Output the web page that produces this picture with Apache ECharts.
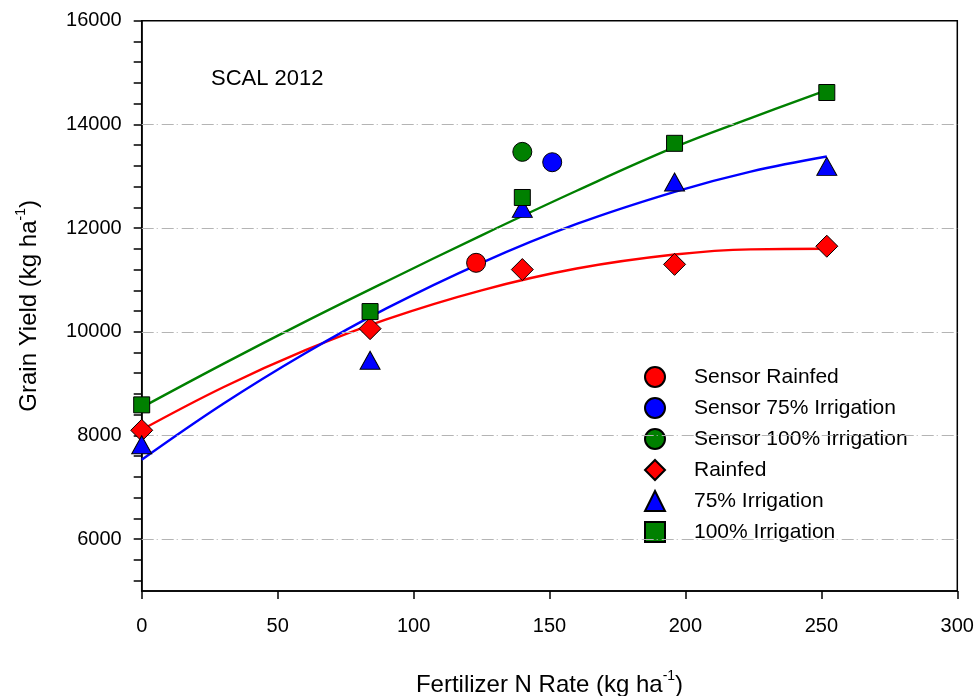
<!DOCTYPE html>
<html><head><meta charset="utf-8">
<script src="https://cdn.jsdelivr.net/npm/echarts@6/dist/echarts.min.js"></script>
<style>html,body{margin:0;padding:0;background:#fff}#c{width:979px;height:696px}</style>
</head><body><div id="c"></div>
<script>
// ---- data ----
const nRates = [0, 84, 140, 196, 252];
const rainfed = [8100, 10060, 11200, 11300, 11650];
const irr75 = [7820, 9450, 12380, 12890, 13190];
const irr100 = [8590, 10390, 12590, 13635, 14615];
const sensorRainfed = [[123, 11330]];
const sensor75 = [[151, 13270]];
const sensor100 = [[140, 13470]];
const fitX = [0, 30, 60, 90, 125, 160, 196, 224, 252];
const fitRainfed = [8110, 8930, 9640, 10240, 10800, 11220, 11490, 11590, 11600];
const fit75 = [7530, 8610, 9580, 10450, 11330, 12080, 12700, 13090, 13380];
const fit100 = [8540, 9380, 10190, 10970, 11860, 12720, 13560, 14120, 14660];
const xTicks = [0, 50, 100, 150, 200, 250, 300];
const yLabels = [6000, 8000, 10000, 12000, 14000, 16000];
const yTicks = [5200, 5600, 6000, 6400, 6800, 7200, 7600, 8000, 8400, 8800, 9200, 9600, 10000,
  10400, 10800, 11200, 11600, 12000, 12400, 12800, 13200, 13600, 14000, 14400, 14800, 15200, 15600, 16000];
const gridLines = [6000, 8000, 10000, 12000, 14000];
const legendNames = ['Sensor Rainfed', 'Sensor 75% Irrigation', 'Sensor 100% Irrigation', 'Rainfed', '75% Irrigation', '100% Irrigation'];

const RED = '#ff0000', BLUE = '#0000ff', GREEN = '#008000';
const FONT = 'Liberation Sans, Arial, sans-serif';
const pair = (xs, ys) => xs.map((x, i) => [x, ys[i]]);

const chart = echarts.init(document.getElementById('c'), null, {renderer: 'canvas'});
const mk = (name, data, symbol, size, color) => ({
  name, type: 'scatter', data, symbol, symbolSize: size, z: 5,
  itemStyle: {color, borderColor: '#000', borderWidth: 1, opacity: 1}
});
const fit = (data, color) => ({
  type: 'line', data, smooth: 0.4, showSymbol: false, symbol: 'none', z: 3,
  lineStyle: {color, width: 2.4}, silent: true
});
const richName = {
  b: {fontSize: 24, color: '#000', fontFamily: FONT, lineHeight: 28, verticalAlign: 'bottom'},
  s: {fontSize: 14, color: '#000', fontFamily: FONT, lineHeight: 28, verticalAlign: 'top', padding: [0, 0, 10, 0]}
};

chart.setOption({
  animation: false,
  backgroundColor: '#fff',
  textStyle: {fontFamily: FONT},
  grid: {left: 141.7, right: 21.7, top: 20.7, bottom: 105, show: true, borderColor: '#000', borderWidth: 1.5,
    containLabel: false, outerBoundsMode: 'none'},
  graphic: [{type: 'text', left: 211, top: 68, style: {text: 'SCAL 2012', font: '22px ' + FONT, fill: '#000'}}],
  legend: {
    data: legendNames, orient: 'vertical', left: 639, top: 361, itemWidth: 20, itemHeight: 20, itemGap: 9,
    selectedMode: false,
    formatter: n => '{t|' + n + '}',
    textStyle: {fontSize: 21, color: '#000', fontFamily: FONT, lineHeight: 20,
      rich: {t: {fontSize: 21, color: '#000', fontFamily: FONT, lineHeight: 20, padding: [0, 0, 0, 24]}}}
  },
  xAxis: {
    type: 'value', min: 0, max: 300, interval: 50,
    axisLine: {show: true, onZero: false, lineStyle: {color: '#000', width: 1.5}},
    axisTick: {show: true, inside: false, length: 8, lineStyle: {color: '#000', width: 1.5}, customValues: xTicks},
    axisLabel: {fontSize: 20, color: '#000', margin: 25, customValues: xTicks, formatter: v => String(v)},
    splitLine: {show: false},
    name: '{b|Fertilizer N Rate (kg ha}{s|-1}{b|)}', nameLocation: 'middle', nameGap: 78,
    nameTextStyle: {rich: richName}
  },
  yAxis: {
    type: 'value', min: 5000, max: 16000,
    axisLine: {show: true, onZero: false, lineStyle: {color: '#000', width: 1.5}},
    axisTick: {show: true, inside: false, length: 8, lineStyle: {color: '#000', width: 1.5}, customValues: yTicks},
    axisLabel: {fontSize: 20, color: '#000', margin: 20, customValues: yLabels, formatter: v => String(v)},
    splitLine: {show: false},
    name: '{b|Grain Yield (kg ha}{s|-1}{b|)}', nameLocation: 'middle', nameGap: 100,
    nameTextStyle: {rich: richName}
  },
  series: [
    {type: 'line', data: [], silent: true, z: 1,
     markLine: {silent: true, symbol: 'none', label: {show: false},
       lineStyle: {color: '#b4b4b4', width: 1.2, type: [12, 3, 1, 4]},
       data: gridLines.map(v => ({yAxis: v}))}},
    fit(pair(fitX, fitRainfed), RED),
    fit(pair(fitX, fit75), BLUE),
    fit(pair(fitX, fit100), GREEN),
    mk('Sensor Rainfed', sensorRainfed, 'circle', 19, RED),
    mk('Sensor 75% Irrigation', sensor75, 'circle', 19, BLUE),
    mk('Sensor 100% Irrigation', sensor100, 'circle', 19, GREEN),
    mk('Rainfed', pair(nRates, rainfed), 'diamond', 22, RED),
    mk('75% Irrigation', pair(nRates, irr75), 'triangle', [20, 18], BLUE),
    mk('100% Irrigation', pair(nRates, irr100), 'rect', 16, GREEN)
  ]
});
</script></body></html>
